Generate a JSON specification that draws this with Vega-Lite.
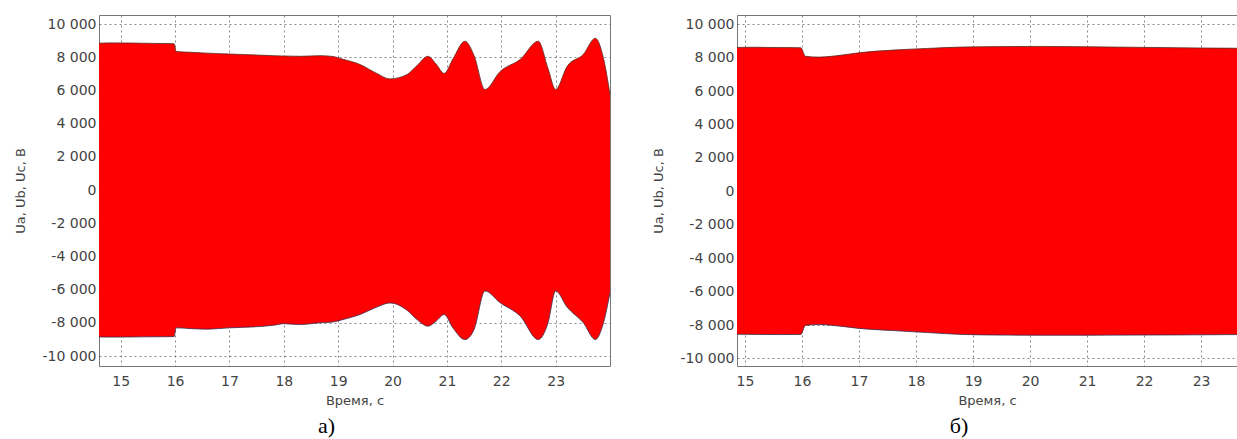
{
  "$schema": "https://vega.github.io/schema/vega-lite/v6.json",
  "padding": {"left": 14, "top": 14, "right": 0, "bottom": 0},
  "background": "white",
  "spacing": 39,
  "datasets": {
    "a": [
      {"t": 14.6, "hi": 8850, "lo": -8850},
      {"t": 14.8, "hi": 8870, "lo": -8860},
      {"t": 15.2, "hi": 8860, "lo": -8850},
      {"t": 15.6, "hi": 8840, "lo": -8840},
      {"t": 15.98, "hi": 8820, "lo": -8830},
      {"t": 16.02, "hi": 8350, "lo": -8300},
      {"t": 16.3, "hi": 8300, "lo": -8350},
      {"t": 16.6, "hi": 8250, "lo": -8380},
      {"t": 17.0, "hi": 8200, "lo": -8300},
      {"t": 17.4, "hi": 8150, "lo": -8250},
      {"t": 17.8, "hi": 8100, "lo": -8150},
      {"t": 18.0, "hi": 8080, "lo": -8050},
      {"t": 18.3, "hi": 8060, "lo": -8100},
      {"t": 18.66, "hi": 8100, "lo": -8000},
      {"t": 18.9, "hi": 8050, "lo": -7950},
      {"t": 19.09, "hi": 7880, "lo": -7800},
      {"t": 19.4, "hi": 7570, "lo": -7500},
      {"t": 19.71, "hi": 7030, "lo": -7050},
      {"t": 19.95, "hi": 6700, "lo": -6800},
      {"t": 20.27, "hi": 6970, "lo": -7250},
      {"t": 20.45, "hi": 7500, "lo": -7800},
      {"t": 20.65, "hi": 8060, "lo": -8200},
      {"t": 20.8, "hi": 7600, "lo": -7900},
      {"t": 20.95, "hi": 7030, "lo": -7500},
      {"t": 21.11, "hi": 7900, "lo": -8300},
      {"t": 21.33, "hi": 8970, "lo": -9010},
      {"t": 21.5, "hi": 8100, "lo": -8400},
      {"t": 21.7, "hi": 6060, "lo": -6080},
      {"t": 21.98, "hi": 7150, "lo": -6790},
      {"t": 22.35, "hi": 7880, "lo": -7600},
      {"t": 22.68, "hi": 8970, "lo": -9010},
      {"t": 22.86, "hi": 7330, "lo": -8000},
      {"t": 23.0, "hi": 6060, "lo": -6080},
      {"t": 23.21, "hi": 7450, "lo": -7050},
      {"t": 23.51, "hi": 8180, "lo": -8000},
      {"t": 23.73, "hi": 9150, "lo": -9010},
      {"t": 23.88, "hi": 7940, "lo": -8000},
      {"t": 24.0, "hi": 5760, "lo": -6180}
    ],
    "b": [
      {"t": 14.86, "hi": 8610, "lo": -8550},
      {"t": 15.2, "hi": 8620, "lo": -8560},
      {"t": 15.6, "hi": 8600, "lo": -8570},
      {"t": 15.98, "hi": 8590, "lo": -8560},
      {"t": 16.06, "hi": 8080, "lo": -8020},
      {"t": 16.3, "hi": 8030, "lo": -7970},
      {"t": 16.7, "hi": 8150, "lo": -8080},
      {"t": 17.0, "hi": 8290, "lo": -8200},
      {"t": 17.6, "hi": 8450, "lo": -8330},
      {"t": 18.2, "hi": 8550, "lo": -8450},
      {"t": 18.8, "hi": 8630, "lo": -8560},
      {"t": 19.5, "hi": 8660, "lo": -8600},
      {"t": 20.2, "hi": 8670, "lo": -8610},
      {"t": 21.0, "hi": 8650, "lo": -8610},
      {"t": 21.8, "hi": 8620, "lo": -8600},
      {"t": 22.6, "hi": 8590, "lo": -8590},
      {"t": 23.2, "hi": 8570, "lo": -8580},
      {"t": 23.63, "hi": 8560, "lo": -8570}
    ]
  },
  "hconcat": [
    {
      "width": 511,
      "height": 351,
      "data": {"name": "a"},
      "title": {"text": "а)", "orient": "bottom", "anchor": "middle", "dx": -28, "offset": 9, "font": "Liberation Serif", "fontSize": 22, "fontWeight": "normal", "color": "black"},
      "encoding": {
        "x": {"field": "t", "type": "quantitative", "scale": {"domain": [14.6, 24.0], "nice": false, "zero": false}, "axis": {"title": "Время, с", "values": [15, 16, 17, 18, 19, 20, 21, 22, 23]}},
        "y": {"field": "hi", "type": "quantitative", "scale": {"domain": [-10600, 10550], "nice": false, "zero": false}, "axis": {"title": "Ua, Ub, Uc, B", "values": [-10000, -8000, -6000, -4000, -2000, 0, 2000, 4000, 6000, 8000, 10000], "labelExpr": "replace(replace(format(datum.value, ','), ',', ' '), '−', '-')"}}
      },
      "layer": [
        {"mark": {"type": "area", "color": "#ff0000", "interpolate": "monotone"}, "encoding": {"y2": {"field": "lo"}}},
        {"mark": {"type": "line", "color": "#5a2a20", "strokeWidth": 1, "opacity": 0.8, "interpolate": "monotone"}, "encoding": {}},
        {"mark": {"type": "line", "color": "#3a2a50", "strokeWidth": 1, "opacity": 0.8, "interpolate": "monotone"}, "encoding": {"y": {"field": "lo", "type": "quantitative"}}}
      ]
    },
    {
      "width": 500,
      "height": 351,
      "data": {"name": "b"},
      "title": {"text": "б)", "orient": "bottom", "anchor": "middle", "dx": -28, "offset": 9, "font": "Liberation Serif", "fontSize": 22, "fontWeight": "normal", "color": "black"},
      "encoding": {
        "x": {"field": "t", "type": "quantitative", "scale": {"domain": [14.86, 23.63], "nice": false, "zero": false}, "axis": {"title": "Время, с", "values": [15, 16, 17, 18, 19, 20, 21, 22, 23]}},
        "y": {"field": "hi", "type": "quantitative", "scale": {"domain": [-10450, 10550], "nice": false, "zero": false}, "axis": {"title": "Ua, Ub, Uc, B", "values": [-10000, -8000, -6000, -4000, -2000, 0, 2000, 4000, 6000, 8000, 10000], "labelExpr": "replace(replace(format(datum.value, ','), ',', ' '), '−', '-')"}}
      },
      "layer": [
        {"mark": {"type": "area", "color": "#ff0000", "interpolate": "monotone"}, "encoding": {"y2": {"field": "lo"}}},
        {"mark": {"type": "line", "color": "#5a2a20", "strokeWidth": 1, "opacity": 0.8, "interpolate": "monotone"}, "encoding": {}},
        {"mark": {"type": "line", "color": "#3a2a50", "strokeWidth": 1, "opacity": 0.8, "interpolate": "monotone"}, "encoding": {"y": {"field": "lo", "type": "quantitative"}}}
      ]
    }
  ],
  "config": {
    "view": {"stroke": "#777777", "strokeWidth": 1},
    "axis": {
      "labelFont": "DejaVu Sans",
      "labelFontSize": 14,
      "labelColor": "#444444",
      "titleFont": "DejaVu Sans",
      "titleFontSize": 13,
      "titleFontWeight": "normal",
      "titleColor": "#444444",
      "ticks": false,
      "domain": false,
      "grid": true,
      "gridColor": "#555555",
      "gridDash": [2, 3],
      "gridOpacity": 0.7,
      "gridWidth": 1
    },
    "axisX": {"labelPadding": 8, "titlePadding": 6, "labelFlush": false},
    "axisY": {"labelPadding": 3, "titlePadding": 14}
  }
}
